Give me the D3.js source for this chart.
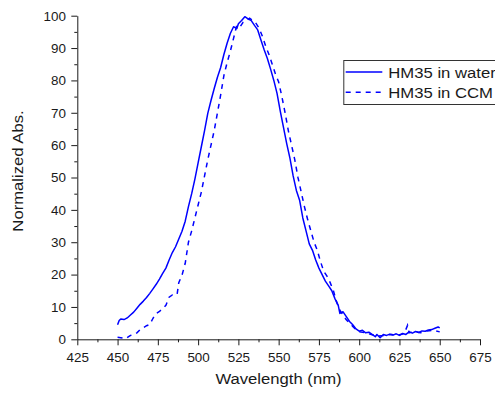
<!DOCTYPE html>
<html>
<head>
<meta charset="utf-8">
<script src="https://cdn.jsdelivr.net/npm/d3@7"></script>
<style>
  html, body { margin: 0; padding: 0; background: #fff; }
  svg { display: block; font-family: "Liberation Sans", Arial, sans-serif; }
</style>
</head>
<body>
<svg id="chart" width="495" height="397"></svg>
<script>
// HM35 in water (solid)
const waterNm = [450, 451, 452, 454, 456, 458, 460, 462, 464, 466, 468, 470, 472, 474, 476, 478, 480,
  482, 484, 486, 488, 490, 492, 494, 496, 498, 500, 502, 504, 506, 508, 510, 512, 514, 516, 518, 520,
  522, 524, 525, 527, 529, 531, 533, 535, 537, 539, 541, 543, 545, 547, 549, 551, 553, 555, 557, 559,
  561, 563, 565, 567, 569, 571, 573, 575, 577, 579, 581, 583, 585, 587, 588, 590, 592, 594, 596, 598,
  600, 602, 604, 606, 608, 610, 611, 613, 615, 617, 619, 621, 623, 625, 627, 629, 631, 633, 635, 637,
  639, 641, 643, 645, 647, 649, 650];
const waterAbs = [4.5, 5.8, 6.3, 6.1, 6.6, 7.5, 8.4, 9.6, 10.8, 11.8, 12.9, 14.2, 15.6, 17.0, 18.6, 20.4, 22.0,
  24.5, 26.8, 28.6, 31.0, 33.4, 36.5, 41.0, 45.0, 49.5, 54.5, 59.5, 64.5, 69.8, 73.8, 77.5, 81.0, 84.0, 88.0, 91.5, 94.5,
  96.6, 96.0, 97.5, 98.5, 99.7, 99.0, 98.5, 97.0, 95.6, 92.5, 89.5, 86.8, 83.5, 80.0, 76.0, 70.5, 65.5, 60.5, 56.0, 50.5,
  46.0, 43.0, 37.5, 33.5, 29.5, 27.5, 24.5, 22.0, 20.0, 18.0, 16.5, 15.0, 12.5, 10.5, 8.0, 8.5, 7.0, 5.5, 4.5, 3.2,
  2.5, 2.8, 2.0, 2.2, 1.5, 0.8, 1.5, 0.5, 1.5, 1.2, 1.6, 1.3, 1.7, 1.2, 1.8, 1.5, 2.3, 1.9, 2.4, 2.1,
  2.6, 2.5, 2.9, 3.0, 3.4, 3.8, 3.5];

// HM35 in CCM (dashed)
const ccmNm = [450, 452, 455, 458, 460, 462, 464, 466, 468, 470, 472, 474, 476, 478, 480, 482, 484, 486, 487,
  488, 490, 492, 494, 496, 498, 500, 502, 504, 506, 508, 510, 512, 514, 516, 518, 520, 522, 524, 526, 528,
  530, 532, 534, 536, 538, 540, 542, 544, 546, 548, 550, 552, 554, 556, 558, 560, 562, 564, 566, 568, 570,
  572, 574, 576, 578, 580, 582, 584, 586, 588, 590, 592, 594, 596, 598, 600, 604, 608, 612, 616, 620, 624,
  628, 630, 631, 634, 638, 642, 646, 650];
const ccmAbs = [0.6, 0.5, 0.2, 1.2, 1.5, 2.0, 3.0, 3.6, 4.2, 4.6, 6.5, 8.0, 8.6, 9.5, 10.5, 13.0, 13.7, 13.6, 14.0,
  17.5, 19.8, 23.5, 30.0, 33.5, 37.5, 41.5, 45.5, 50.5, 55.5, 60.0, 64.5, 70.0, 75.5, 81.5, 85.5, 89.0, 93.0, 97.0, 96.5, 98.0,
  98.5, 99.2, 98.5, 97.6, 96.0, 93.5, 90.5, 88.0, 85.0, 82.0, 79.5, 75.0, 70.0, 64.5, 60.0, 55.5, 50.0, 45.5, 41.0, 37.0, 33.5,
  30.0, 27.5, 24.0, 21.0, 19.5, 17.5, 15.0, 11.5, 9.0, 7.5, 6.0, 5.0, 4.0, 3.0, 2.3, 2.0, 1.4, 1.0, 1.2, 1.5, 1.3,
  1.8, 4.3, 2.0, 2.4, 2.0, 2.6, 2.8, 2.3];

const xTicks = [425, 450, 475, 500, 525, 550, 575, 600, 625, 650, 675];
const yTicks = [0, 10, 20, 30, 40, 50, 60, 70, 80, 90, 100];
const seriesNames = ['HM35 in water', 'HM35 in CCM'];

const svg = d3.select('#chart');
const blue = '#0000ff';
const ink = '#1a1a1a';

const scaleX = d3.scaleLinear().domain([425, 675]).range([77.3, 480]);
const scaleY = d3.scaleLinear().domain([0, 100]).range([339.3, 15.7]);

const xMinor = d3.range(0, xTicks.length - 1).map((i) => (xTicks[i] + xTicks[i + 1]) / 2);
const yMinor = d3.range(0, yTicks.length - 1).map((i) => (yTicks[i] + yTicks[i + 1]) / 2);

// minor ticks first, so the major axis draws over them
svg.append('g')
  .attr('transform', `translate(0,${scaleY(0)})`)
  .call(d3.axisBottom(scaleX).tickValues(xMinor).tickSize(3).tickFormat(''))
  .call((g) => g.select('.domain').remove());

svg.append('g')
  .attr('transform', `translate(${scaleX(425)},0)`)
  .call(d3.axisLeft(scaleY).tickValues(yMinor).tickSize(3).tickFormat(''))
  .call((g) => g.select('.domain').remove());

const xAxis = svg.append('g')
  .attr('transform', `translate(0,${scaleY(0)})`)
  .call(d3.axisBottom(scaleX).tickValues(xTicks).tickSize(6).tickSizeOuter(0));

const yAxis = svg.append('g')
  .attr('transform', `translate(${scaleX(425)},0)`)
  .call(d3.axisLeft(scaleY).tickValues(yTicks).tickSize(6).tickSizeOuter(0));

svg.selectAll('.tick line').attr('stroke', ink);
svg.selectAll('.domain').attr('stroke', ink);

xAxis.selectAll('text')
  .attr('y', 22.5)
  .attr('dy', 0)
  .attr('fill', ink)
  .style('font-size', '12px')
  .style('font-family', '"Liberation Sans", Arial, sans-serif')
  .attr('transform', 'scale(1.12,1)');

yAxis.selectAll('text')
  .attr('x', -11.3 / 1.12)
  .attr('dy', '0.36em')
  .attr('fill', ink)
  .style('font-size', '12px')
  .style('font-family', '"Liberation Sans", Arial, sans-serif')
  .attr('transform', 'scale(1.12,1)');

// axis titles
svg.append('text')
  .attr('transform', 'translate(278.5,384.3) scale(1.15,1)')
  .attr('text-anchor', 'middle')
  .attr('fill', ink)
  .style('font-size', '14.5px')
  .text('Wavelength (nm)');

svg.append('text')
  .attr('transform', 'translate(23.3,171) rotate(-90) scale(1.15,1)')
  .attr('text-anchor', 'middle')
  .attr('fill', ink)
  .style('font-size', '14.5px')
  .text('Normalized Abs.');

// curves
const line = d3.line()
  .x((d) => scaleX(d[0]))
  .y((d) => scaleY(d[1]));

svg.append('path')
  .datum(d3.zip(waterNm, waterAbs))
  .attr('d', line)
  .attr('fill', 'none')
  .attr('stroke', blue)
  .attr('stroke-width', 1.5)
  .attr('stroke-linejoin', 'round');

svg.append('path')
  .datum(d3.zip(ccmNm, ccmAbs))
  .attr('d', line)
  .attr('fill', 'none')
  .attr('stroke', blue)
  .attr('stroke-width', 1.5)
  .attr('stroke-dasharray', '5,5');

// legend
const legend = svg.append('g').attr('transform', 'translate(343.3,60)');

legend.append('rect')
  .attr('x', 0.5)
  .attr('y', 0.5)
  .attr('width', 180)
  .attr('height', 44)
  .attr('fill', '#fff')
  .attr('stroke', '#333')
  .attr('stroke-width', 1);

seriesNames.forEach((name, i) => {
  const row = legend.append('g').attr('transform', `translate(0,${12 + i * 20.3})`);
  row.append('line')
    .attr('x1', 2.4)
    .attr('x2', 39)
    .attr('stroke', blue)
    .attr('stroke-width', 1.5)
    .attr('stroke-dasharray', i === 1 ? '5,5' : null);
  row.append('text')
    .attr('transform', 'translate(45,5.7) scale(1.09,1)')
    .attr('fill', ink)
    .style('font-size', '15.3px')
    .text(name);
});
</script>
</body>
</html>
